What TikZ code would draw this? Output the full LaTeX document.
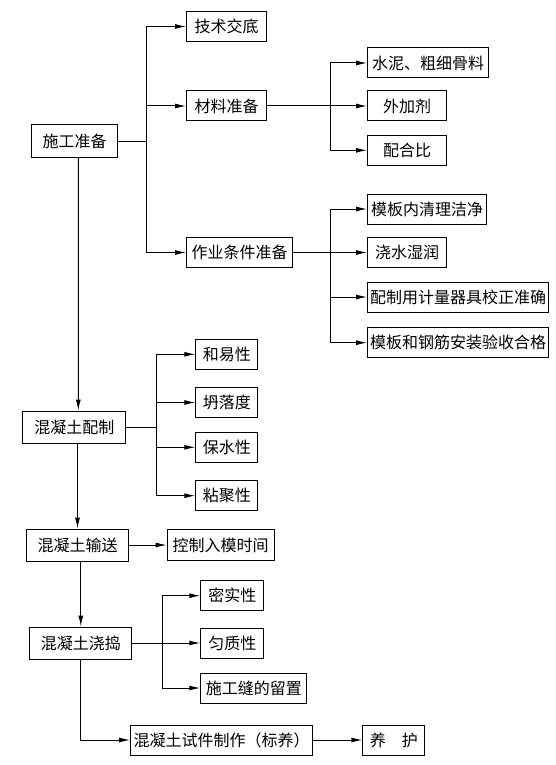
\documentclass[tikz,border=0pt]{standalone}
\usepackage{fontspec}
\newfontfamily\cjk{Noto Sans CJK SC}
\usetikzlibrary{positioning, arrows.meta}

\begin{document}
\begin{tikzpicture}[x=1pt, y=-1pt, line width=1pt, >={Latex[length=11pt,width=5pt]},
  main node/.style={draw, anchor=west, minimum height=30pt, inner xsep=2pt,
    inner ysep=0pt, font=\cjk\fontsize{16pt}{16pt}\selectfont}]
\useasboundingbox (0,0) rectangle (556,765);

\node[main node, minimum width=86pt, minimum height=32pt] (A) at (31,141) {施工准备};
\node[main node, minimum width=80pt] (A1) at (186,26.5) {技术交底};
\node[main node, minimum width=80pt] (A2) at (186,106) {材料准备};
\node[main node, minimum width=106pt] (A3) at (186,252.5) {作业条件准备};

\node[main node, minimum width=121pt] (A21) at (367,63) {水泥、粗细骨料};
\node[main node, minimum width=79pt] (A22) at (367,106) {外加剂};
\node[main node, minimum width=79pt] (A23) at (367,150.3) {配合比};

\node[main node, minimum width=119pt] (A31) at (367,209) {模板内清理洁净};
\node[main node, minimum width=79pt] (A32) at (367,252.5) {浇水湿润};
\node[main node, minimum width=181pt] (A33) at (367,297) {配制用计量器具校正准确};
\node[main node, minimum width=181pt] (A34) at (367,342.7) {模板和钢筋安装验收合格};

\node[main node, minimum width=103pt, minimum height=32pt] (B) at (22.3,427) {混凝土配制};
\node[main node, minimum width=62pt] (B1) at (195.3,354.3) {和易性};
\node[main node, minimum width=62pt] (B2) at (195.3,402.5) {坍落度};
\node[main node, minimum width=62pt] (B3) at (195.3,447.3) {保水性};
\node[main node, minimum width=62pt] (B4) at (195.3,495.7) {粘聚性};

\node[main node, minimum width=102pt, minimum height=32pt] (C) at (26,545) {混凝土输送};
\node[main node, minimum width=107pt, minimum height=31pt] (C1) at (166.7,545) {控制入模时间};

\node[main node, minimum width=102pt, minimum height=32pt] (D) at (29.3,643) {混凝土浇捣};
\node[main node, minimum width=63pt] (D1) at (200.3,595.7) {密实性};
\node[main node, minimum width=63pt] (D2) at (200.3,643) {匀质性};
\node[main node, minimum width=106pt] (D3) at (200.3,688) {施工缝的留置};

\node[main node, minimum width=182pt] (E) at (130,740) {混凝土试件制作（标养）};
\node[main node, minimum width=62pt] (F) at (362.3,740) {养\hspace{16pt}护};

% branch points
\coordinate (a) at (146.7,141);
\coordinate (b) at (330.7,106);
\coordinate (c) at (330.7,252.5);
\coordinate (e) at (156.7,427);
\coordinate (d) at (162.3,643);

\draw (A.east) -- (a);
\draw[->] (a) |- (A1.west);
\draw[->] (a) |- (A2.west);
\draw[->] (a) |- (A3.west);

\draw[->] (A2.east) -- (A22.west);
\draw[->] (b) |- (A21.west);
\draw[->] (b) |- (A23.west);

\draw[->] (A3.east) -- (A32.west);
\draw[->] (c) |- (A31.west);
\draw[->] (c) |- (A33.west);
\draw[->] (c) |- (A34.west);

\draw (B.east) -- (e);
\draw[->] (e) |- (B1.west);
\draw[->] (e) |- (B2.west);
\draw[->] (e) |- (B3.west);
\draw[->] (e) |- (B4.west);

\draw[->] (C.east) -- (C1.west);

\draw[->] (D.east) -- (D2.west);
\draw[->] (d) |- (D1.west);
\draw[->] (d) |- (D3.west);

\draw[->] (E.east) -- (F.west);

% main line
\draw[->] ([xshift=4pt]A.south) -- ([xshift=4pt]B.north);
\draw[->] (C.north |- B.south) -- (C.north);
\draw[->] (D.north |- C.south) -- (D.north);
\draw[->] (D.south) |- (E.west);

\end{tikzpicture}
\end{document}
